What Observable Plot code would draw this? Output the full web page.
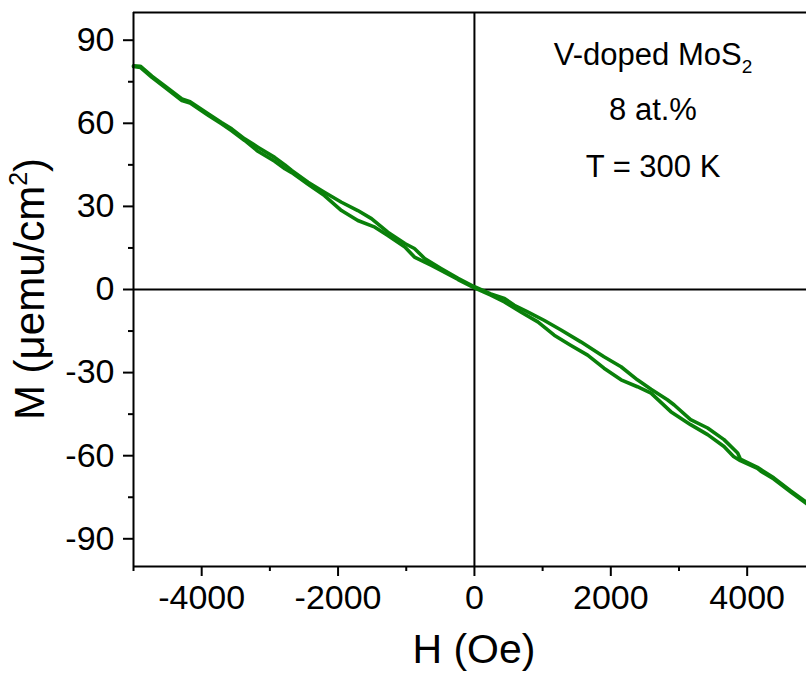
<!DOCTYPE html>
<html><head><meta charset="utf-8">
<script src="https://cdn.jsdelivr.net/npm/d3@7"></script>
<script src="https://cdn.jsdelivr.net/npm/@observablehq/plot@0.6"></script>
<style>
body{margin:0;background:#fff}
svg{font-family:"Liberation Sans",Arial,sans-serif}
</style>
</head><body><div id="chart"></div>
<script>
// Branch A of the M–H loop
const branchA_H = [-5000,-4900,-4730,-4540,-4290,-4170,-3900,-3710,-3560,-3370,-3170,-2930,-2780,-2680,-2440,-2200,-1950,-1710,-1510,-1270,-1020,-880,-730,-490,-240,0,240,440,585,780,1020,1270,1560,1900,2150,2390,2590,2830,2930,3170,3420,3660,3860,3900,4150,4200,4390,4640,4870];
const branchA_M = [80.8,80.6,77.0,73.5,68.8,67.8,63.4,60.3,58.0,54.4,51.3,47.7,45.0,43.0,38.7,35.1,31.5,28.5,25.6,20.7,16.6,14.8,11.2,7.6,4.0,1.0,-1.6,-3.2,-5.7,-8.1,-11.1,-14.6,-18.9,-24.3,-27.9,-32.6,-36.0,-39.8,-41.7,-47.0,-50.0,-54.2,-59.0,-61.2,-64.2,-65.0,-68.0,-72.7,-76.8];
// Branch B of the M–H loop
const branchB_H = [-5000,-4900,-4730,-4540,-4290,-4170,-3900,-3710,-3560,-3370,-3170,-2930,-2780,-2680,-2440,-2200,-1950,-1710,-1460,-1270,-1020,-880,-630,-490,-240,0,240,440,680,930,1170,1410,1660,1900,2150,2390,2590,2880,3170,3420,3660,3800,3900,4150,4200,4390,4640,4870];
const branchB_M = [80.5,80.2,76.6,73.0,68.2,67.3,62.8,59.8,57.3,53.8,49.8,46.3,43.6,42.2,38.0,33.9,28.5,24.9,22.5,19.5,15.3,11.7,8.7,6.9,3.6,0.6,-2.0,-4.5,-8.1,-11.7,-16.5,-20.1,-23.7,-28.4,-32.6,-35.1,-37.4,-44.1,-48.8,-52.4,-56.7,-60.3,-61.8,-64.6,-65.6,-68.4,-73.1,-77.3];

const xMajorTicks = [-4000,-2000,0,2000,4000];
const xMinorTicks = [-5000,-3000,-1000,1000,3000];
const yMajorTicks = [-90,-60,-30,0,30,60,90];
const yMinorTicks = [-75,-45,-15,15,45,75];
const xDomain = [-5000, 4870];
const yDomain = [-100, 100];
const annotationLines = ["V-doped MoS", "8 at.%", "T = 300 K"];

const loop = [
  ...branchA_H.map((h,i)=>({H:h, M:branchA_M[i], branch:"A"})),
  ...branchB_H.map((h,i)=>({H:h, M:branchB_M[i], branch:"B"}))
];

const tickFont = 34;
const fmt = d => d < 0 ? "-" + Math.abs(d) : String(d);
const plot = Plot.plot({
  width: 806, height: 673,
  marginLeft: 133, marginTop: 12, marginRight: 0, marginBottom: 107,
  x: {domain: xDomain},
  y: {domain: yDomain},
  style: {fontFamily: '"Liberation Sans", Arial, sans-serif', color: "#000", background: "#fff"},
  marks: [
    Plot.ruleY([0], {stroke: "#000", strokeWidth: 2}),
    Plot.ruleX([0], {stroke: "#000", strokeWidth: 2}),
    Plot.line(loop, {x: "H", y: "M", z: "branch", stroke: "#0a800a", strokeWidth: 3.6, strokeLinejoin: "round", curve: "linear"}),
    Plot.ruleY([yDomain[1]], {stroke: "#000", strokeWidth: 2}),
    Plot.ruleY([yDomain[0]], {stroke: "#000", strokeWidth: 2}),
    Plot.ruleX([xDomain[0]], {stroke: "#000", strokeWidth: 2}),
    Plot.axisX({ticks: xMajorTicks, tickSize: 10, tickPadding: 8, fontSize: tickFont, label: null, strokeWidth: 2, tickFormat: fmt}),
    Plot.axisX({ticks: xMinorTicks, tickSize: 5, text: null, label: null, strokeWidth: 2}),
    Plot.axisY({ticks: yMajorTicks, tickSize: 10, tickPadding: 9, fontSize: tickFont, label: null, strokeWidth: 2, tickFormat: fmt}),
    Plot.axisY({ticks: yMinorTicks, tickSize: 5, text: null, label: null, strokeWidth: 2})
  ]
});
document.getElementById("chart").appendChild(plot);

const svg = d3.select(plot);
const sx = plot.scale("x"), sy = plot.scale("y");

// x axis title
svg.append("text").attr("x", sx.apply(0)).attr("y", 663)
  .attr("text-anchor", "middle").attr("font-size", 41).attr("fill", "#000").text("H (Oe)");

// y axis title with superscript
const yt = svg.append("text")
  .attr("transform", `translate(44,${sy.apply(0)}) rotate(-90)`)
  .attr("text-anchor", "middle").attr("font-size", 42).attr("fill", "#000");
yt.append("tspan").text("M (\u03bcemu/cm");
yt.append("tspan").attr("font-size", 25).attr("dy", -17).text("2");
yt.append("tspan").attr("dy", 17).text(")");

// annotation
const ax = 653;
const aFont = 31;
const a1 = svg.append("text").attr("x", ax).attr("y", 65).attr("text-anchor", "middle").attr("font-size", aFont).attr("fill", "#000");
a1.append("tspan").text(annotationLines[0]);
a1.append("tspan").attr("font-size", 19).attr("dy", 8).text("2");
svg.append("text").attr("x", ax).attr("y", 120).attr("text-anchor", "middle").attr("font-size", aFont).attr("fill", "#000").text(annotationLines[1]);
svg.append("text").attr("x", ax).attr("y", 177).attr("text-anchor", "middle").attr("font-size", aFont).attr("fill", "#000").text(annotationLines[2]);
</script>
</body></html>
